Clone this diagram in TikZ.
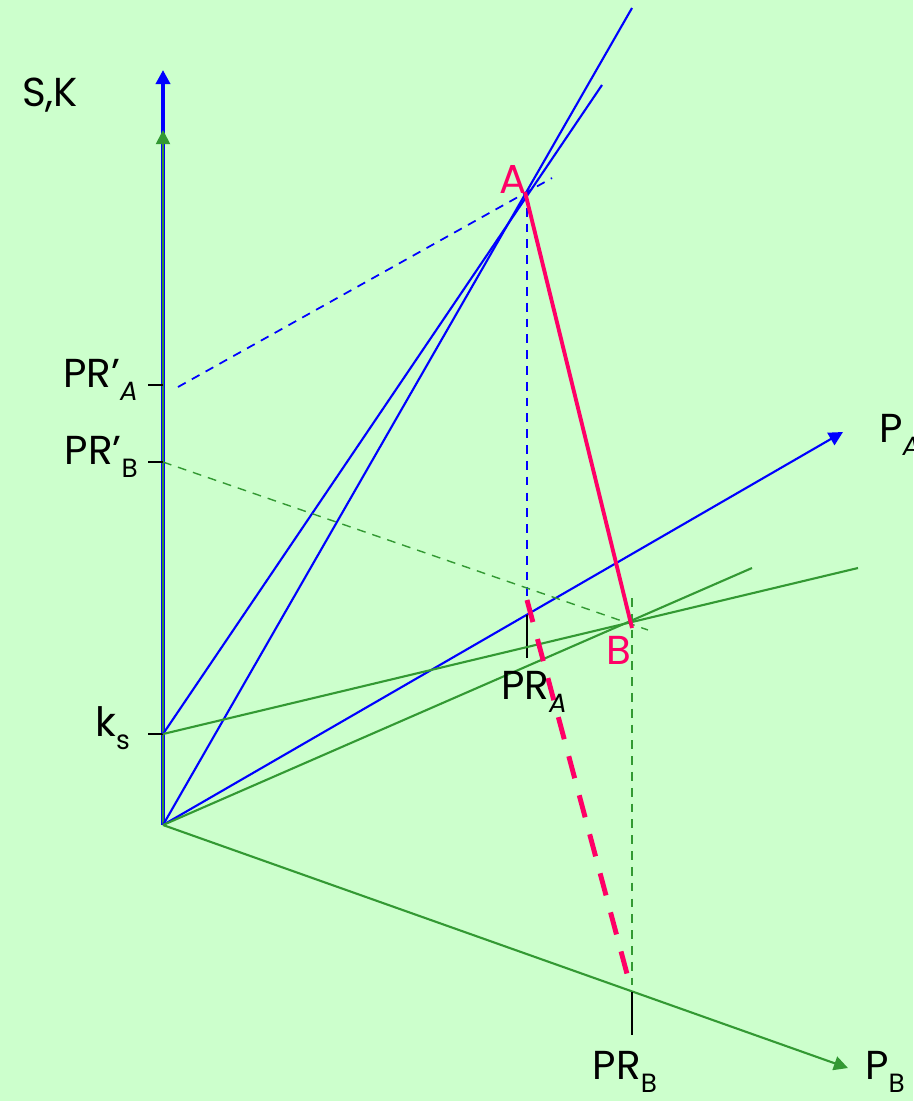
\documentclass[tikz,border=0pt]{standalone}
\usepackage{fontspec}
\setmainfont{Poppins}
\usetikzlibrary{arrows.meta}

\definecolor{paleground}{HTML}{CCFFCC}
\definecolor{axgreen}{HTML}{339933}
\definecolor{hotpink}{HTML}{FF0066}
\newcommand{\lowidx}[1]{\raisebox{-.33em}{\fontsize{15}{15}\selectfont #1}}

\begin{document}
\begin{tikzpicture}[x=0.2mm,y=-0.2mm,>={Triangle[length=8pt,width=8pt]},
  lbl/.style={font=\fontsize{23}{23}\selectfont,inner sep=1pt},
  bl/.style={blue,line width=1.2pt},
  gr/.style={axgreen,line width=1.2pt},
  tickmark/.style={black,line width=1pt},
  bdash/.style={blue,line width=1pt,dash pattern=on 5pt off 4pt},
  gdash/.style={axgreen,line width=.8pt,dash pattern=on 5pt off 4pt},
  pnk/.style={hotpink,line width=2.2pt}]
\fill[paleground] (0,0) rectangle (913,1101);
\useasboundingbox (0,0) rectangle (913,1101);

% points
\coordinate (O) at (163,825);
\coordinate (ks) at (163,734);
\coordinate (prpa) at (163,385);
\coordinate (prpb) at (163,462);
\coordinate (A) at (525,192);
\coordinate (B) at (632,628);
\coordinate (pra) at (527,615);
\coordinate (prb) at (632,992);

% axes
\draw[blue,line width=2.2pt,->] (O) -- (163,70) coordinate (sktop);
\draw[axgreen,line width=1pt,->] (O) -- (163,130) coordinate (sktopg);
\draw[bl,->] (O) -- (843,432) coordinate (patip);
\draw[gr,->] (O) -- (848,1068) coordinate (pbtip);

% ticks
\draw[tickmark] (148,385) coordinate (ta) -- (prpa);
\draw[tickmark] (148,462) coordinate (tb) -- (prpb);
\draw[tickmark] (148,734) coordinate (tk) -- (ks);
\draw[tickmark] (pra) -- (527,658) coordinate (praend);
\draw[tickmark] (prb) -- (632,1035) coordinate (prbend);

% price lines
\draw[bl] (O) -- (632,8) coordinate (a1);
\draw[bl] (ks) -- (602,85) coordinate (a2);
\draw[gr] (O) -- (752,568) coordinate (b1);
\draw[gr] (ks) -- (858,568) coordinate (b2);

% projections
\draw[bdash] (178,387) coordinate (da) -- (552,178) coordinate (db);
\draw[bdash] (527,192) -- (527,600) coordinate (dav);
\draw[gdash] (prpb) -- (648,630) coordinate (dgb);
\draw[gdash] (632,598) coordinate (dgv) -- (632,985) coordinate (dgw);

% contract curve
\draw[pnk] (A) -- (B);
\draw[hotpink,line width=2.8pt,dash pattern=on 13pt off 10pt] (527,600) coordinate (pa1) -- (630,985) coordinate (pb1);

% labels
\node[lbl] (sk) at (50,95) {S,K};
\node[lbl,anchor=east] (lpa) at (140,380) {PR’\lowidx{\textit{A}}};
\node[lbl,anchor=east] (lpb) at (140,457) {PR’\lowidx{B}};
\node[lbl,anchor=east] (lks) at (132,728) {k\lowidx{s}};
\node[lbl] (lpra) at (534,692) {PR\lowidx{\textit{A}}};
\node[lbl] (lprb) at (625,1072) {PR\lowidx{B}};
\node[lbl,anchor=west] (lpA) at (877,435) {P\lowidx{\textit{A}}};
\node[lbl] (lpB) at (885,1072) {P\lowidx{B}};
\node[lbl,text=hotpink] (la) at (513,179) {A};
\node[lbl,text=hotpink] (lb) at (619,650) {B};
\end{tikzpicture}
\end{document}
